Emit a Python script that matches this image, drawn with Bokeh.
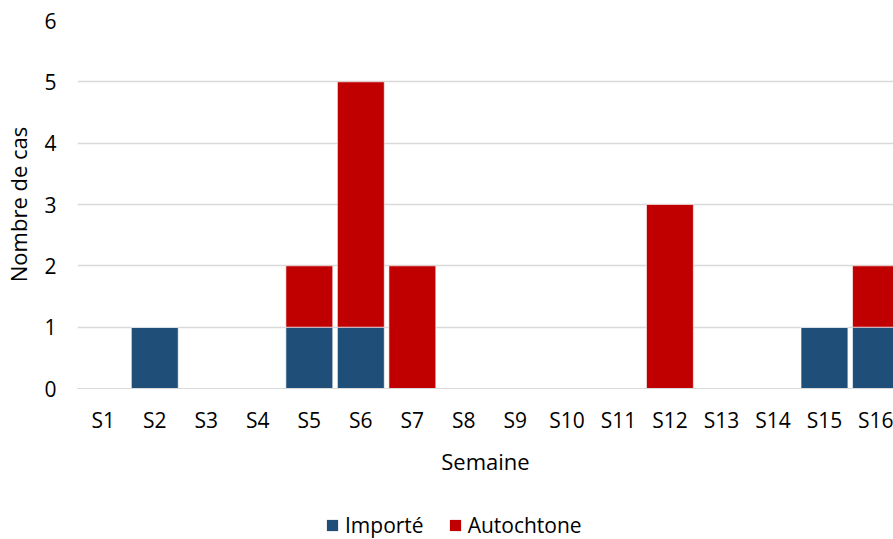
from bokeh.plotting import figure
from bokeh.layouts import column
from bokeh.models import ColumnDataSource, Range1d, FixedTicker, Legend, LegendItem
from bokeh.embed import file_html
from bokeh.resources import INLINE

# Weekly case counts, split by origin
weeks = ["S1", "S2", "S3", "S4", "S5", "S6", "S7", "S8",
         "S9", "S10", "S11", "S12", "S13", "S14", "S15", "S16"]
importe = [0, 1, 0, 0, 1, 1, 0, 0, 0, 0, 0, 0, 0, 0, 1, 1]
autochtone = [0, 0, 0, 0, 1, 4, 2, 0, 0, 0, 0, 3, 0, 0, 0, 1]
y_ticks = [0, 1, 2, 3, 4, 5, 6]
series_names = ["Importé", "Autochtone"]

BLUE = "#1F4E79"
RED = "#C00000"
GRID = "#D9D9D9"
FONT = "Open Sans"
TXT = "#000000"
FS_TICK = "21px"
FS_TITLE = "22px"

pos = list(range(1, len(weeks) + 1))
src = ColumnDataSource(dict(x=pos, imp=importe, aut=autochtone))

p = figure(width=893, height=500, output_backend="svg", toolbar_location=None,
           x_range=Range1d(0.5, 16.34), y_range=Range1d(0, 6),
           min_border_left=0, min_border_right=0, min_border_top=20,
           min_border_bottom=112)
p.outline_line_color = None
p.background_fill_color = "white"
p.border_fill_color = "white"

r = p.vbar_stack(["imp", "aut"], x="x", width=0.91, source=src,
                 color=[BLUE, RED], line_color="white", line_alpha=0.6,
                 line_width=1)

# Axes
p.xaxis.ticker = FixedTicker(ticks=pos)
p.xaxis.major_label_overrides = {i: w for i, w in zip(pos, weeks)}
p.yaxis.ticker = FixedTicker(ticks=y_ticks)
for ax in (p.xaxis[0], p.yaxis[0]):
    ax.major_tick_line_color = None
    ax.minor_tick_line_color = None
    ax.major_label_text_font = FONT
    ax.major_label_text_font_size = FS_TICK
    ax.major_label_text_color = TXT
    ax.axis_label_text_font = FONT
    ax.axis_label_text_font_size = FS_TITLE
    ax.axis_label_text_font_style = "normal"
    ax.axis_label_text_color = TXT
p.xaxis.axis_line_color = GRID
p.xaxis.axis_line_width = 1
p.yaxis.axis_line_color = None
p.xaxis.axis_label = "Semaine"
p.yaxis.axis_label = "Nombre de cas"
p.xaxis.major_label_standoff = 11
p.xaxis.axis_label_standoff = 9
p.yaxis.major_label_standoff = 15
p.yaxis.axis_label_standoff = 8

p.xgrid.grid_line_color = None
p.ygrid.grid_line_color = GRID
p.ygrid.grid_line_width = 1.5
p.ygrid.ticker = FixedTicker(ticks=y_ticks)

# Legend strip under the chart; its swatch renderers are hidden copies
# of the stacked bars, so only the legend entries show
lg = figure(width=893, height=39, output_backend="svg", toolbar_location=None,
            x_range=Range1d(0.5, 16.34), y_range=Range1d(0, 6),
            min_border=0)
lg.axis.visible = False
lg.grid.visible = False
lg.outline_line_color = None
sw = lg.vbar_stack(["imp", "aut"], x="x", width=0.91, source=src,
                   color=[BLUE, RED], line_color=None)
for rr in sw:
    rr.visible = False

legend = Legend(items=[LegendItem(label=series_names[0], renderers=[sw[0]]),
                       LegendItem(label=series_names[1], renderers=[sw[1]])],
                orientation="horizontal", location=(248, 0),
                label_text_font=FONT, label_text_font_size=FS_TICK,
                label_text_color=TXT, glyph_width=14, glyph_height=14,
                label_standoff=6, spacing=24, padding=0, margin=0,
                inactive_fill_alpha=0,
                border_line_color=None, background_fill_alpha=0)
lg.add_layout(legend, "center")

open("out.html", "w").write(file_html(column(p, lg, spacing=0), INLINE))
